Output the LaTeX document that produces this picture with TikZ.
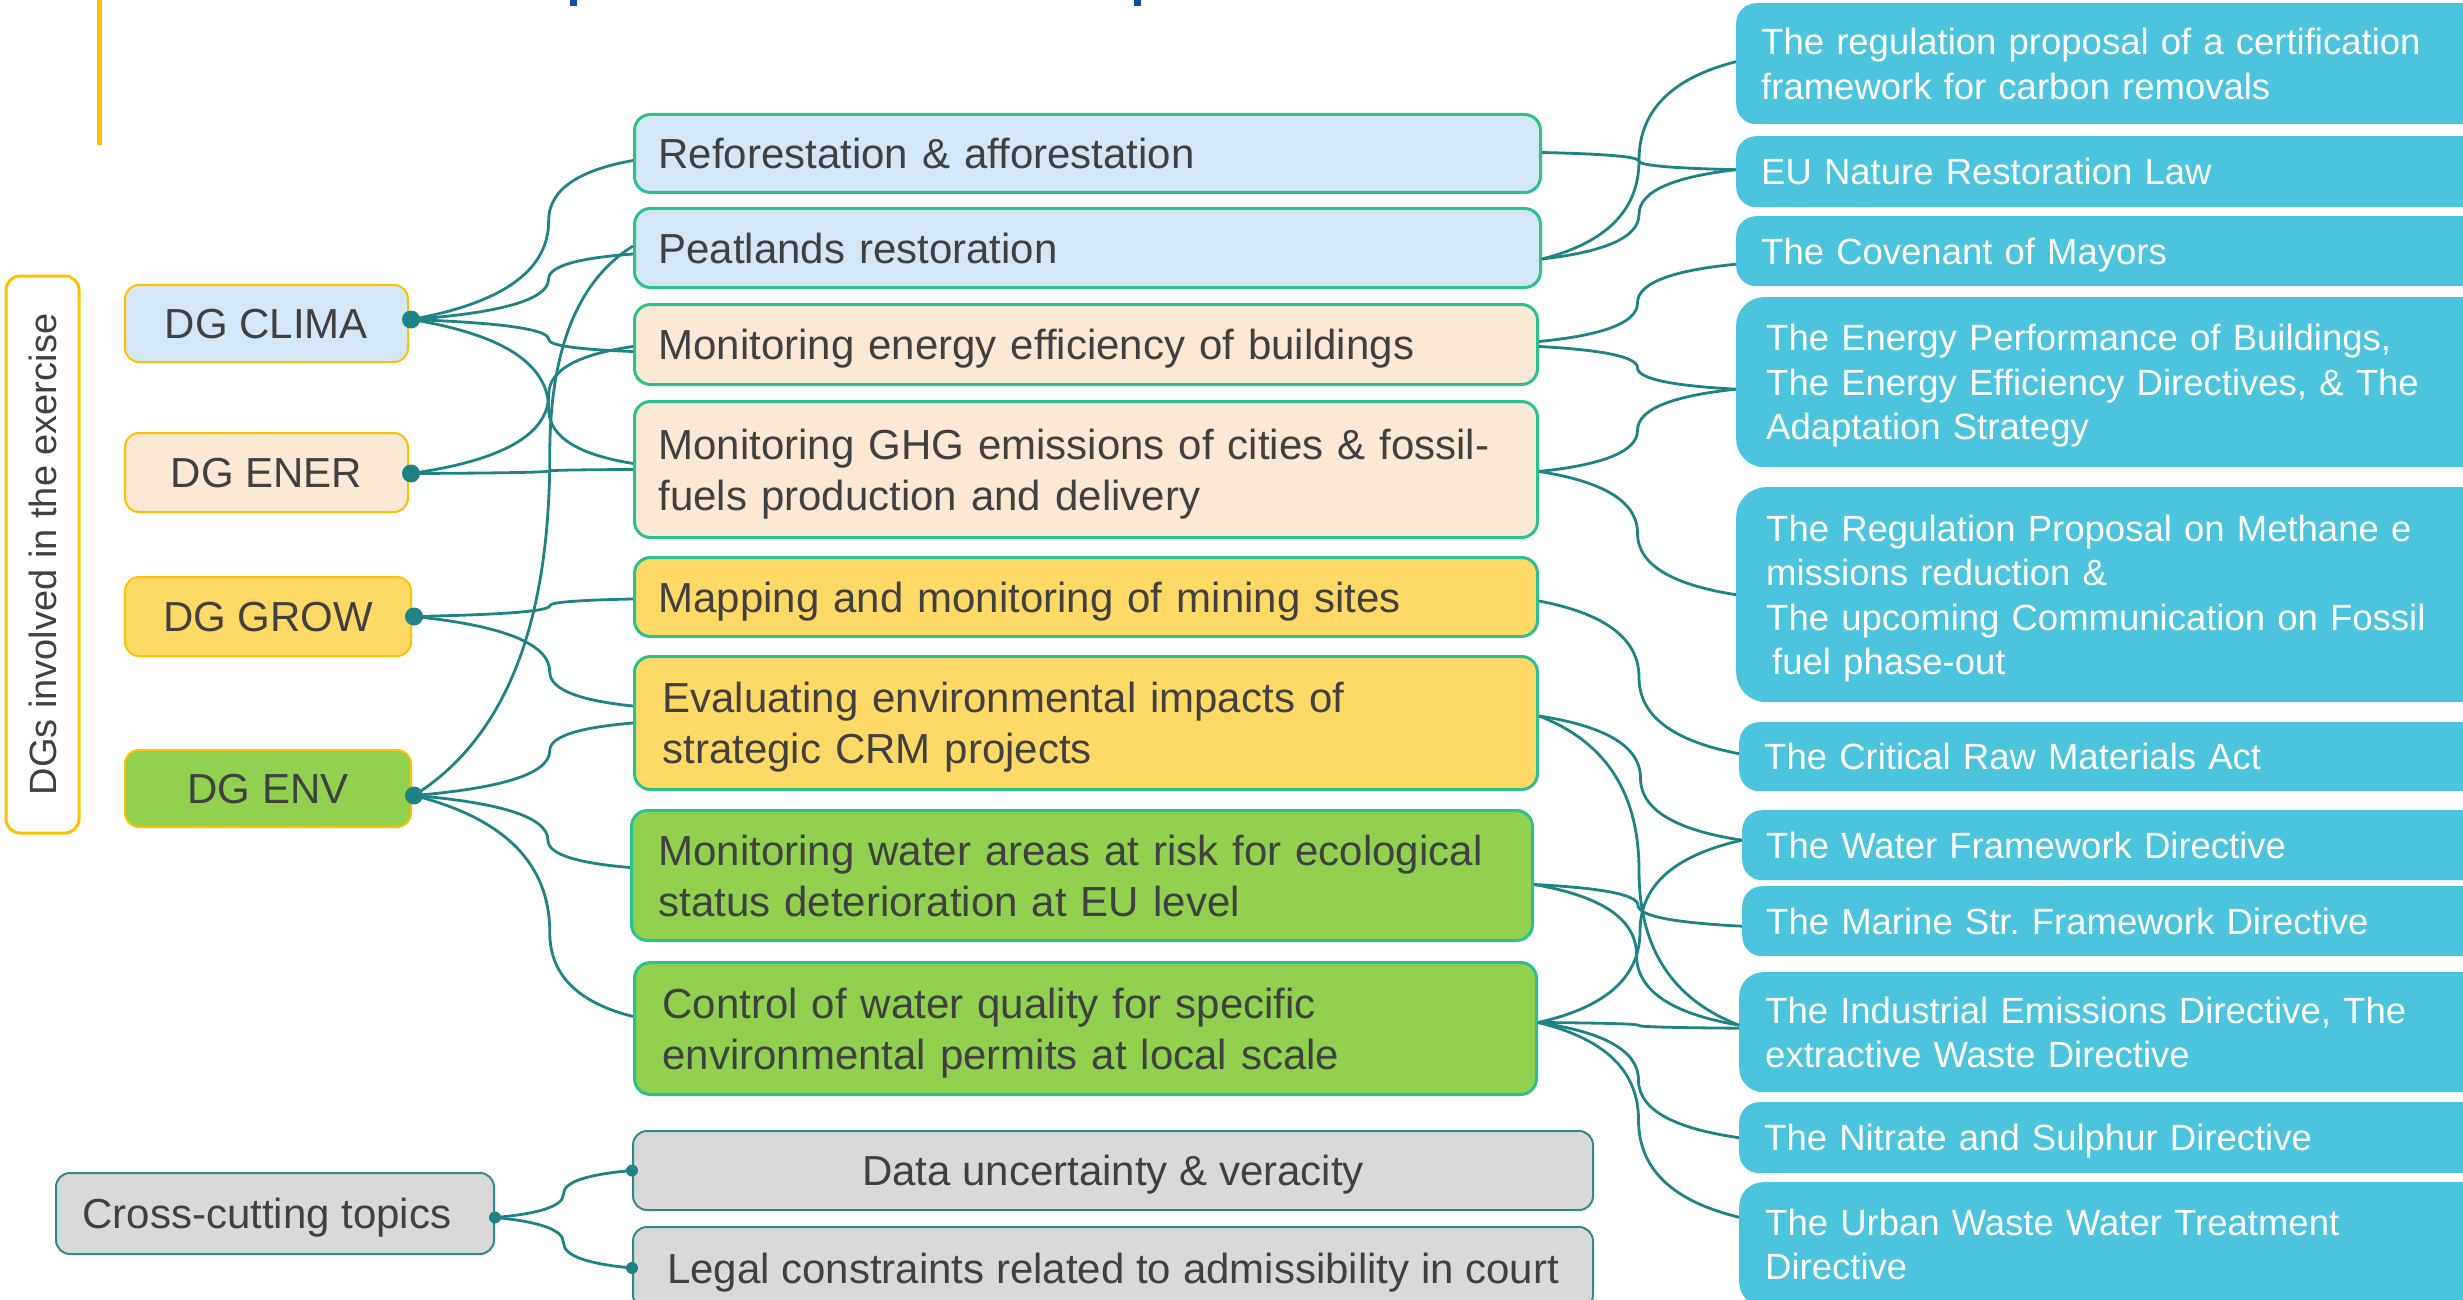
\documentclass[tikz,border=0pt]{standalone}
\usepackage{fontspec}
\setmainfont{Liberation Sans}
\usetikzlibrary{calc}
\definecolor{txt}{HTML}{404040}
\definecolor{lblue}{HTML}{D4E7F7}
\definecolor{peach}{HTML}{FBE8D5}
\definecolor{yel}{HTML}{FED966}
\definecolor{grn}{HTML}{92D050}
\definecolor{cyanb}{HTML}{4CC4DD}
\definecolor{linec}{HTML}{1F8285}
\definecolor{midb}{HTML}{2CC08C}
\definecolor{dgb}{HTML}{FFC000}
\definecolor{grayf}{HTML}{D9D9D9}
\definecolor{grayb}{HTML}{2E8A8C}
\definecolor{navy}{HTML}{0B4EA2}
\newcommand\fsA{\fontsize{42}{51}\selectfont}
\newcommand\fsB{\fontsize{36.5}{44.5}\selectfont}
\newcommand\fsC{\fontsize{38}{46}\selectfont}
\newcommand{\lnk}[3][0.5]{%
  \draw[conn] let \p1=(#2), \p2=(#3), \p3=($(\p1)!#1!(\p2)$) in
  (\p1) .. controls ({\x1+0.6*(\x3-\x1)},{\y1+0.15*(\y3-\y1)}) and (\x3,{\y1+0.45*(\y3-\y1)}) .. (\p3)
  .. controls (\x3,{\y3+0.55*(\y2-\y3)}) and ({\x3+0.4*(\x2-\x3)},{\y2-0.15*(\y2-\y3)}) .. (\p2);}
\begin{document}
\begin{tikzpicture}[x=1pt,y=-1pt,
  conn/.style={draw=linec, line width=2.8pt},
  dgbox/.style={draw=dgb, line width=2pt, rounded corners=14pt, anchor=north west, font=\fsA, text=txt, inner sep=0pt, text depth=0pt, minimum width=283pt},
  midbox/.style={draw=midb, line width=3pt, rounded corners=16pt, anchor=north west, inner xsep=24pt, inner ysep=0pt, align=left, font=\fsA, text=txt, text depth=0pt},
  rbox/.style={fill=cyanb, rounded corners=20pt, anchor=north west, inner xsep=25pt, inner ysep=0pt, align=left, text=white, font=\fsB, text depth=0pt, text width=800pt},
  graybox/.style={draw=grayb, fill=grayf, line width=2pt, rounded corners=14pt, anchor=north west, font=\fsA, text=txt, inner sep=0pt, text depth=0pt},
  two/.style={text depth=51pt},
  rtwo/.style={text depth=44.5pt},
  rthree/.style={text depth=89pt},
  rfour/.style={text depth=133.5pt},
  dot/.style={fill=linec}]
\useasboundingbox (0,0) rectangle (2463,1300);
\clip (0,0) rectangle (2463,1300);

% top decorations
\fill[dgb] (97,0) rectangle (102,145);
\fill[navy] (570,0) rectangle (577,6);
\fill[navy] (1134,0) rectangle (1141,6);

% left column
\node[draw=dgb, line width=3pt, rounded corners=14pt, rotate=90, minimum width=557pt, minimum height=73pt, inner sep=0pt, font=\fsC, text=txt] (dgs) at (42.5,554.5) {DGs involved in the exercise};
\node[dgbox, fill=lblue, minimum height=77pt] (clima) at (124,284) {DG CLIMA};
\node[dgbox, fill=peach, minimum height=79pt] (ener) at (124,432) {DG ENER};
\node[dgbox, fill=yel, minimum height=79pt, minimum width=286pt] (grow) at (124,576) {DG GROW};
\node[dgbox, fill=grn, minimum height=77pt, minimum width=286pt] (env) at (124,749) {DG ENV};
\node[graybox, minimum width=438pt, minimum height=81pt] (cross) at (55,1172) {\hspace*{-16pt}Cross-cutting topics};

% middle column
\node[midbox, fill=lblue, text width=858pt, minimum height=78pt] (refo) at (633,113) {Reforestation \& afforestation};
\node[midbox, fill=lblue, text width=858pt, minimum height=79pt] (peat) at (633,207) {Peatlands restoration};
\node[midbox, fill=peach, text width=855pt, minimum height=80pt] (eneff) at (633,303) {Monitoring energy efficiency of buildings};
\node[midbox, two, fill=peach, text width=855pt, minimum height=136pt] (ghg) at (633,400) {Monitoring GHG emissions of cities \& fossil-\\fuels production and delivery};
\node[midbox, fill=yel, text width=855pt, minimum height=79pt] (mining) at (633,556) {Mapping and monitoring of mining sites};
\node[midbox, two, fill=yel, text width=847pt, inner xsep=28pt, minimum height=133pt] (crm) at (633,655) {Evaluating environmental impacts of\\strategic CRM projects};
\node[midbox, two, fill=grn, text width=847pt, inner xsep=27pt, minimum height=130pt] (water) at (630,809) {Monitoring water areas at risk for ecological\\status deterioration at EU level};
\node[midbox, two, fill=grn, text width=846pt, inner xsep=28pt, minimum height=132pt] (quality) at (633,961) {Control of water quality for specific\\environmental permits at local scale};
\node[graybox, minimum width=960pt, minimum height=79pt] (data) at (632,1130) {Data uncertainty \& veracity};
\node[graybox, minimum width=960pt, minimum height=82pt] (legal) at (632,1226) {Legal constraints related to admissibility in court};

% right column
\node[rbox, rtwo, minimum height=121pt] (crcf) at (1736,3) {The regulation proposal of a certification\\framework for carbon removals};
\node[rbox, minimum height=71pt] (nrl) at (1736,136) {EU Nature Restoration Law};
\node[rbox, minimum height=70pt] (com) at (1736,216) {The Covenant of Mayors};
\node[rbox, rthree, rounded corners=28pt, inner xsep=30pt, minimum height=170pt] (epbd) at (1736,297) {The Energy Performance of Buildings,\\The Energy Efficiency Directives, \& The\\Adaptation Strategy};
\node[rbox, rfour, rounded corners=30pt, inner xsep=30pt, minimum height=215pt] (methane) at (1736,487) {The Regulation Proposal on Methane e\\missions reduction \&\\The upcoming Communication on Fossil\\\hspace*{6pt}fuel phase-out};
\node[rbox, minimum height=69pt] (crma) at (1739,722) {The Critical Raw Materials Act};
\node[rbox, minimum height=70pt, inner xsep=24pt] (wfd) at (1742,810) {The Water Framework Directive};
\node[rbox, minimum height=70pt, inner xsep=24pt] (msfd) at (1742,886) {The Marine Str.\ Framework Directive};
\node[rbox, rtwo, rounded corners=24pt, minimum height=120pt, inner xsep=26pt] (ied) at (1739,972) {The Industrial Emissions Directive, The\\extractive Waste Directive};
\node[rbox, minimum height=71pt] (nitrate) at (1739,1102) {The Nitrate and Sulphur Directive};
\node[rbox, rtwo, rounded corners=24pt, minimum height=124pt, inner xsep=26pt] (uwwtd) at (1739,1182) {The Urban Waste Water Treatment\\Directive};

% connector origins
\coordinate (clima-d) at ($(clima.east)+(2,-4)$);
\coordinate (ener-d) at ($(ener.east)+(2,1)$);
\coordinate (grow-d) at ($(grow.east)+(2,0)$);
\coordinate (env-d) at ($(env.east)+(2,7)$);
\coordinate (cross-d) at ($(cross.east)+(0,4)$);

% left connectors
\lnk[0.62]{clima-d}{$(refo.west)+(0,7)$}
\lnk[0.62]{clima-d}{$(peat.west)+(0,6)$}
\lnk[0.62]{clima-d}{$(eneff.west)+(0,7)$}
\lnk[0.62]{clima-d}{$(ghg.west)+(0,-6)$}
\lnk[0.62]{ener-d}{$(eneff.west)+(0,2)$}
\lnk[0.62]{ener-d}{ghg.west}
\lnk[0.62]{grow-d}{$(mining.west)+(0,2)$}
\lnk[0.62]{grow-d}{$(crm.west)+(0,-17)$}
\lnk[0.62]{env-d}{$(peat.west)+(0,-2)$}
\lnk[0.62]{env-d}{crm.west}
\lnk[0.62]{env-d}{$(water.west)+(0,-8)$}
\lnk[0.62]{env-d}{$(quality.west)+(0,-12)$}

% middle to right connectors
\lnk{$(refo.east)+(0,-1)$}{$(nrl.west)+(0,-2)$}
\lnk{$(peat.east)+(0,11)$}{$(nrl.west)+(0,-2)$}
\lnk{$(peat.east)+(0,11)$}{$(crcf.west)+(0,-2)$}
\lnk{$(eneff.east)+(0,-3)$}{$(com.west)+(0,13)$}
\lnk{$(eneff.east)+(0,2)$}{$(epbd.west)+(0,7)$}
\lnk{$(ghg.east)+(0,2)$}{$(epbd.west)+(0,7)$}
\lnk{$(ghg.east)+(0,2)$}{methane.west}
\lnk{$(mining.east)+(0,4)$}{$(crma.west)+(0,-3)$}
\lnk{$(crm.east)+(0,-7)$}{$(wfd.west)+(0,-5)$}
\lnk{$(crm.east)+(0,-7)$}{$(ied.west)+(0,-7)$}
\lnk{$(water.east)+(0,9)$}{$(msfd.west)+(0,5)$}
\lnk{$(water.east)+(0,9)$}{$(ied.west)+(0,-7)$}
\lnk{$(quality.east)+(0,-6)$}{$(wfd.west)+(0,-5)$}
\lnk{$(quality.east)+(0,-6)$}{$(ied.west)+(0,-4)$}
\lnk{$(quality.east)+(0,-6)$}{nitrate.west}
\lnk{$(quality.east)+(0,-6)$}{$(uwwtd.west)+(0,-27)$}

% cross-cutting connectors
\lnk{cross-d}{data.west}
\lnk{cross-d}{legal.west}

% dots
\fill[dot] (clima-d) circle (9);
\fill[dot] (ener-d) circle (9);
\fill[dot] (grow-d) circle (9);
\fill[dot] (env-d) circle (9);
\fill[dot] (cross-d) circle (6);
\fill[dot] (data.west) circle (6);
\fill[dot] (legal.west) circle (6);
\end{tikzpicture}
\end{document}
